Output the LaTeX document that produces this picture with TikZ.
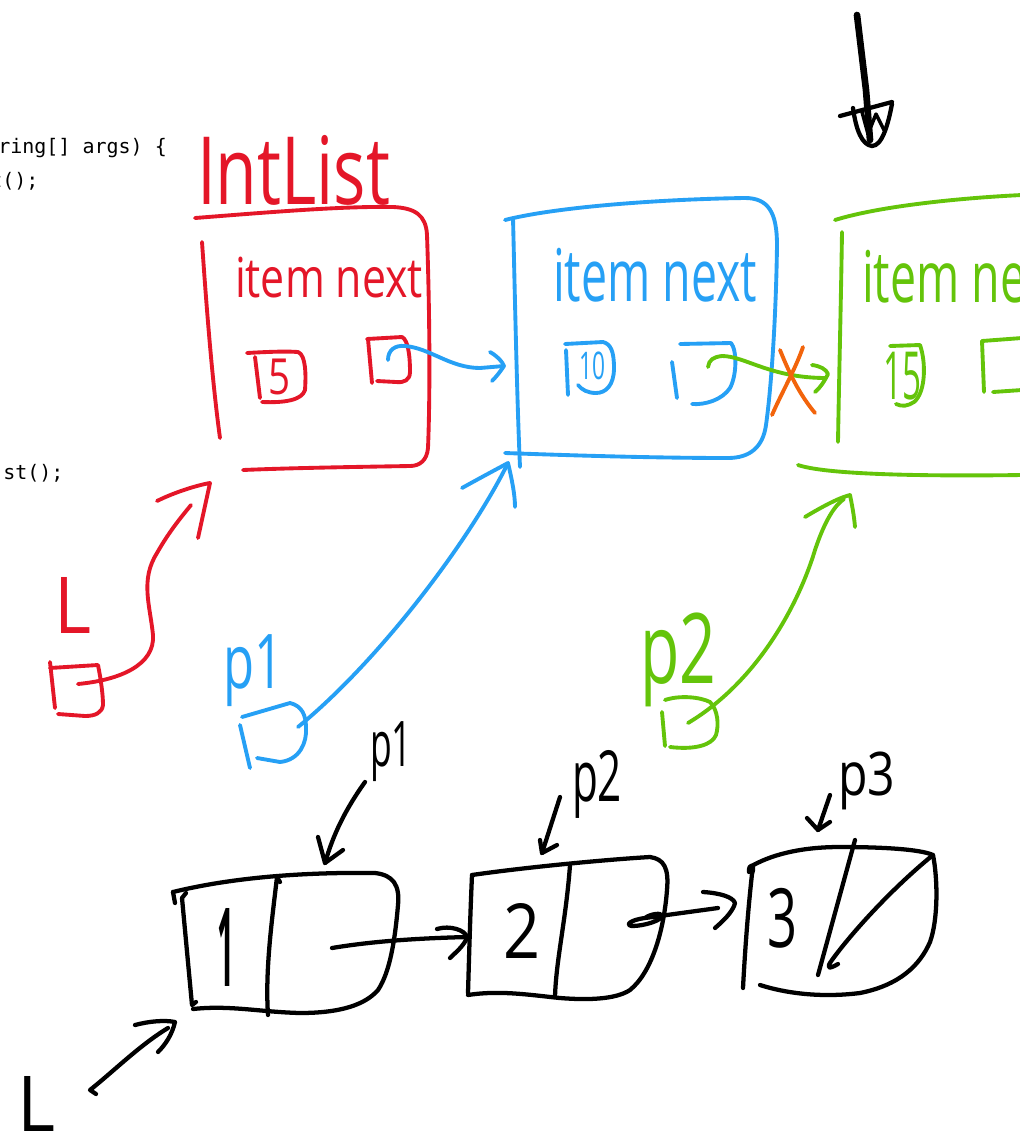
\documentclass[tikz,border=0pt]{standalone}
\usepackage{fontspec}
\usepackage{graphicx}
\setmainfont{Open Sans}
\newfontfamily\codefont{DejaVu Sans Mono}
\definecolor{inkred}{RGB}{228,22,40}
\definecolor{inkblue}{RGB}{38,160,245}
\definecolor{inkgreen}{RGB}{100,196,10}
\definecolor{inkorange}{RGB}{242,100,12}
\newdimen\pxu \pxu=0.75pt
\newcommand\fitbox[3]{\resizebox*{#1\pxu}{#2\pxu}{#3}}
\tikzset{
  pen/.style={line width=2.9pt, line cap=round, line join=round},
  rpen/.style={pen, draw=inkred},
  bpen/.style={pen, draw=inkblue},
  gpen/.style={pen, draw=inkgreen},
  kpen/.style={pen, draw=black, line width=3.2pt},
  opn/.style={pen, draw=inkorange},
  hw/.style={anchor=north west, inner sep=0pt, outer sep=0pt},
  code/.style={anchor=base west, inner sep=0pt, font=\codefont\fontsize{15}{17}\selectfont, text=black}
}
\begin{document}
\begin{tikzpicture}[x=0.75pt,y=-0.75pt]
\useasboundingbox (0,0) rectangle (1020,1136);
\fill[white] (0,0) rectangle (1020,1136);

% ---------- code fragments ----------
\node[code] (c1) at (-2,153) {ring[] args) \{};
\node[code] (c2) at (-10,187) {t();};
\node[code] (c3) at (3,479) {st();};

% ---------- black top-right mark ----------
\draw[kpen, line width=5pt] (857,15) -- (866,90) -- (870,140);
\draw[kpen] (840,116) -- (892,102);
\draw[kpen] (853,108) .. controls (856,130) and (862,145) .. (872,146) .. controls (882,146) and (888,125) .. (892,104);
\draw[kpen, line width=2.6pt] (862,112) -- (868,134) -- (876,114) -- (884,130);

% ---------- red IntList ----------
\node[hw, text=inkred] (tIntList) at (197,135) {\fitbox{193}{70}{IntList}};
\draw[rpen] (195,218) .. controls (260,213) and (340,206) .. (393,207) .. controls (415,208) and (426,215) .. (427,235) .. controls (430,320) and (430,400) .. (428,448) .. controls (427,460) and (420,466) .. (410,466) .. controls (350,467) and (290,468) .. (243,470);
\draw[rpen] (202,242) .. controls (206,300) and (212,380) .. (220,438);
\node[hw, text=inkred] (tRitem) at (235,257) {\fitbox{188}{41}{item next}};
% red item box
\draw[rpen] (247,353) .. controls (265,352) and (285,351) .. (298,352) .. controls (306,355) and (306,375) .. (305,390) .. controls (302,400) and (285,403) .. (262,402);
\draw[rpen] (255,357) -- (260,398);
\node[hw, text=inkred] (tR5) at (268,359) {\fitbox{22}{36}{5}};
% red next box
\draw[rpen] (367,339) -- (402,337) .. controls (408,340) and (410,355) .. (410,372) .. controls (410,380) and (404,383) .. (396,382) -- (377,381);
\draw[rpen] (368,339) -- (372,383);

% ---------- blue node ----------
\draw[bpen] (505,220) .. controls (560,206) and (670,199) .. (745,198) .. controls (768,198) and (777,212) .. (777,245) .. controls (776,320) and (771,390) .. (766,425) .. controls (763,447) and (750,458) .. (728,458) .. controls (650,458) and (560,455) .. (505,453);
\draw[bpen] (513,218) .. controls (515,300) and (517,400) .. (520,467);
\node[hw, text=inkblue] (tBitem) at (553,248) {\fitbox{204}{54}{item next}};
\draw[bpen] (565,344) -- (603,342) .. controls (611,344) and (614,352) .. (614,368) .. controls (614,385) and (606,393) .. (596,393) .. controls (588,393) and (582,390) .. (578,385);
\draw[bpen] (566,350) -- (568,395);
\node[hw, text=inkblue] (tB10) at (579,352) {\fitbox{26}{28}{10}};
\draw[bpen] (680,344) -- (731,343) .. controls (737,350) and (737,375) .. (730,388) .. controls (722,400) and (705,405) .. (692,404);
\draw[bpen] (672,362) -- (677,398);

% ---------- green node ----------
\draw[gpen] (835,220) .. controls (880,206) and (960,198) .. (1022,195);
\draw[gpen] (842,232) .. controls (841,300) and (839,380) .. (838,442);
\draw[gpen] (798,465) .. controls (830,476) and (950,476) .. (1022,475);
\node[hw, text=inkgreen] (tGitem) at (862,250) {\fitbox{204}{53}{item next}};
\draw[gpen] (890,346) -- (920,345) .. controls (926,362) and (926,392) .. (914,402) .. controls (908,406) and (902,407) .. (896,404);
\node[hw, text=inkgreen] (tG15) at (883,352) {\fitbox{38}{48}{15}};
\draw[gpen] (982,341) -- (1022,338);
\draw[gpen] (982,341) -- (984,392);
\draw[gpen] (993,392) -- (1022,390);

% ---------- red L variable ----------
\node[hw, text=inkred] (tRL) at (55,577) {\fitbox{37}{56}{L}};
\draw[rpen] (50,668) -- (98,665) .. controls (101,680) and (103,695) .. (103,705) .. controls (102,713) and (95,716) .. (85,716) -- (58,714);
\draw[rpen] (50,662) -- (55,708);
\coordinate (rs) at (78,684);
\coordinate (rt) at (210,483);
\draw[rpen] (rs) .. controls (120,680) and (155,665) .. (153,635) .. controls (150,605) and (140,580) .. (157,553) .. controls (170,530) and (183,515) .. (191,505);
\draw[rpen] (157,501) .. controls (175,492) and (198,485) .. (rt) -- (198,538);

% ---------- blue p1 variable ----------
\node[hw, text=inkblue] (tBp1) at (223,635) {\fitbox{60}{72}{p1}};
\draw[bpen] (242,717) -- (290,703) .. controls (302,706) and (306,715) .. (306,728) .. controls (307,742) and (300,760) .. (280,762) -- (257,758);
\draw[bpen] (240,725) -- (250,768);
\coordinate (bs) at (298,727);
\coordinate (bt) at (508,463);
\draw[bpen] (bs) .. controls (380,660) and (470,540) .. (bt);
\draw[bpen] (462,488) .. controls (480,478) and (495,470) .. (bt) .. controls (512,480) and (515,495) .. (515,507);

% ---------- green p2 variable ----------
\node[hw, text=inkgreen] (tGp2) at (640,613) {\fitbox{76}{94}{p2}};
\draw[gpen] (665,700) .. controls (680,695) and (700,697) .. (710,702) .. controls (718,710) and (719,725) .. (716,735) .. controls (712,745) and (695,750) .. (670,747);
\draw[gpen] (662,712) -- (665,746);
\coordinate (gs) at (688,723);
\coordinate (gt) at (850,495);
\draw[gpen] (gs) .. controls (760,680) and (800,600) .. (815,550) .. controls (825,520) and (835,505) .. (844,499);
\draw[gpen] (805,517) .. controls (820,508) and (838,498) .. (gt) .. controls (852,505) and (854,515) .. (855,527);

% ---------- links between nodes ----------
\coordinate (r2b) at (388,360);
\coordinate (r2bt) at (504,366);
\draw[bpen] (r2b) .. controls (388,350) and (395,345) .. (405,346) .. controls (430,348) and (450,368) .. (480,368) -- (r2bt);
\draw[bpen] (490,352) .. controls (497,356) and (502,361) .. (r2bt) .. controls (500,372) and (496,377) .. (492,381);

\coordinate (b2g) at (708,367);
\coordinate (b2gt) at (828,374);
\draw[gpen] (b2g) .. controls (709,360) and (713,357) .. (722,356) .. controls (745,356) and (770,378) .. (826,378);
\draw[gpen] (812,365) .. controls (820,366) and (826,369) .. (b2gt) .. controls (824,382) and (820,388) .. (815,392);
\draw[opn] (780,350) .. controls (790,375) and (800,395) .. (815,413);
\draw[opn] (803,347) .. controls (795,370) and (782,392) .. (772,415);

% ---------- bottom black list ----------
% node 1
\draw[kpen] (173,892) .. controls (230,878) and (300,872) .. (375,873) .. controls (393,875) and (400,885) .. (398,905) .. controls (395,940) and (390,972) .. (378,990) .. controls (365,1005) and (340,1013) .. (300,1013) .. controls (260,1012) and (230,1005) .. (193,1009);
\draw[kpen] (173,892) -- (175,903);
\draw[kpen] (186,893) -- (182,898) -- (192,1005) -- (196,1002);
\draw[kpen] (280,882) -- (277,877) .. controls (272,920) and (265,970) .. (268,1015);
\node[hw, font=\bfseries] (k1) at (217,908) {\fitbox{17}{78}{1}};
% node 2
\draw[kpen] (472,875) .. controls (470,920) and (469,960) .. (468,993);
\draw[kpen] (472,875) .. controls (520,868) and (600,860) .. (650,857) .. controls (664,859) and (669,868) .. (667,890) .. controls (664,930) and (652,972) .. (630,990) .. controls (615,1000) and (585,1000) .. (560,998) .. controls (530,995) and (500,990) .. (468,995);
\draw[kpen] (570,865) .. controls (566,920) and (556,960) .. (555,997);
\node[hw] (k2) at (503,903) {\fitbox{37}{55}{2}};
% node 3
\draw[kpen] (749,872) .. controls (748,864) and (756,862) .. (752,874) .. controls (748,910) and (745,950) .. (743,988);
\draw[kpen] (750,867) .. controls (770,855) and (800,847) .. (840,847) .. controls (880,847) and (920,849) .. (933,855) .. controls (938,880) and (938,920) .. (930,942) .. controls (920,965) and (900,985) .. (860,993) .. controls (820,998) and (785,993) .. (760,985);
\draw[kpen] (855,840) -- (818,975);
\draw[kpen] (933,855) .. controls (890,890) and (850,935) .. (832,960) .. controls (826,968) and (828,970) .. (838,964);
\node[hw] (k3) at (767,888) {\fitbox{30}{60}{3}};
% links 1->2, 2->3
\coordinate (k12s) at (332,948);
\coordinate (k12t) at (467,937);
\draw[kpen] (k12s) .. controls (380,940) and (430,938) .. (k12t);
\draw[kpen] (437,929) .. controls (450,925) and (465,930) .. (k12t) .. controls (465,945) and (455,953) .. (450,958);
\coordinate (k23s) at (645,918);
\coordinate (k23t) at (735,903);
\draw[kpen] (645,918) .. controls (630,920) and (625,925) .. (632,926) .. controls (645,926) and (662,920) .. (662,916) .. controls (662,912) and (650,914) .. (645,918) -- (718,908);
\draw[kpen] (703,892) .. controls (720,893) and (733,897) .. (k23t) .. controls (733,912) and (722,922) .. (715,928);
% pointer labels
\node[hw] (kp1) at (370,722) {\fitbox{42}{60}{p1}};
\coordinate (kp1s) at (365,782);
\coordinate (kp1t) at (325,863);
\draw[kpen] (kp1s) .. controls (345,810) and (333,835) .. (kp1t);
\draw[kpen] (318,837) -- (kp1t) -- (343,850);
\node[hw] (kp2) at (572,750) {\fitbox{50}{68}{p2}};
\coordinate (kp2s) at (560,797);
\coordinate (kp2t) at (542,853);
\draw[kpen] (kp2s) -- (kp2t);
\draw[kpen] (540,840) -- (kp2t) -- (557,845);
\node[hw] (kp3) at (838,752) {\fitbox{57}{58}{p3}};
\coordinate (kp3s) at (830,795);
\coordinate (kp3t) at (818,830);
\draw[kpen] (kp3s) -- (kp3t);
\draw[kpen] (807,818) -- (kp3t) -- (830,822);
% L bottom
\node[hw] (kL) at (17,1076) {\fitbox{38}{55}{L}};
\coordinate (kLs) at (90,1090);
\coordinate (kLt) at (175,1022);
\draw[kpen] (96,1094) -- (kLs) .. controls (115,1070) and (140,1045) .. (168,1028);
\draw[kpen] (135,1025) .. controls (150,1021) and (165,1020) .. (kLt) .. controls (172,1035) and (165,1045) .. (158,1052);
\end{tikzpicture}
\end{document}
